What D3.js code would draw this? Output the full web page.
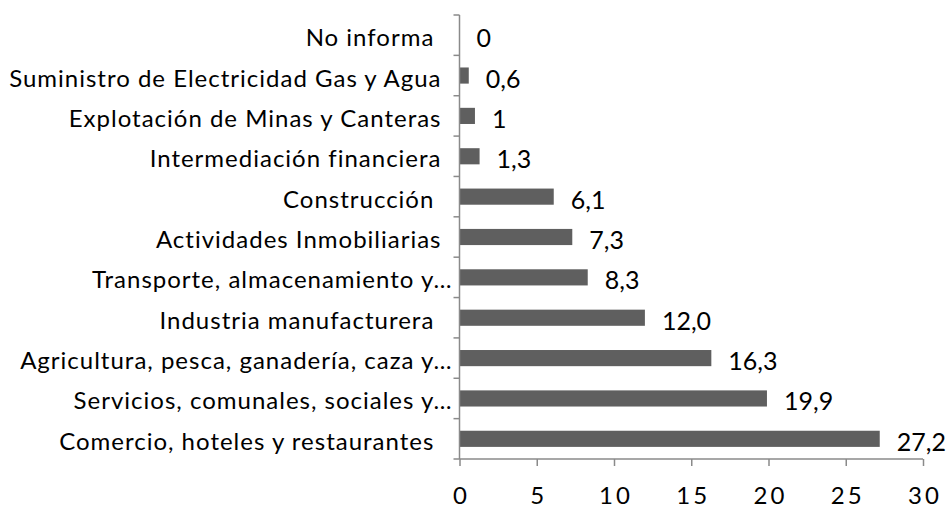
<!DOCTYPE html>
<html>
<head>
    <meta charset="utf-8">
    <script src="https://d3js.org/d3.v7.min.js"></script>
    <style>
        body { margin: 0; background: #fff; }
        text { font-family: Lato, "Open Sans", sans-serif; fill: #000; }
    </style>
</head>
<body>
<script>
    // categories from top to bottom, as in the picture
    let categories = [
        "No informa ",
        "Suministro de Electricidad Gas y Agua",
        "Explotación de Minas y Canteras",
        "Intermediación financiera",
        "Construcción ",
        "Actividades Inmobiliarias",
        "Transporte, almacenamiento y…",
        "Industria manufacturera ",
        "Agricultura, pesca, ganadería, caza y…",
        "Servicios, comunales, sociales y…",
        "Comercio, hoteles y restaurantes "
    ];
    let values = [0, 0.6, 1, 1.3, 6.1, 7.3, 8.3, 12.0, 16.3, 19.9, 27.2];
    let valueLabels = ["0", "0,6", "1", "1,3", "6,1", "7,3", "8,3", "12,0", "16,3", "19,9", "27,2"];
    let xTicks = [0, 5, 10, 15, 20, 25, 30];

    let width = 950, height = 508;
    let plotLeft = 459.5, plotRight = 923, plotTop = 15, plotBottom = 459;
    let axisColor = "#8a8a8a";

    let svg = d3.select("body").append("svg")
        .attr("width", width)
        .attr("height", height);

    let x = d3.scaleLinear().domain([0, 30]).range([plotLeft, plotRight]);
    let y = d3.scaleBand().domain(categories).range([plotTop, plotBottom]).paddingInner(0.6).paddingOuter(0.3);
    let mid = d => y(d) + y.bandwidth() / 2;

    // bars
    svg.selectAll("rect.bar")
        .data(values)
        .join("rect")
        .attr("class", "bar")
        .attr("x", x(0))
        .attr("y", (d, i) => y(categories[i]))
        .attr("width", d => x(d) - x(0))
        .attr("height", y.bandwidth())
        .attr("fill", "#5f5f5f");

    // value labels
    svg.selectAll("text.val")
        .data(values)
        .join("text")
        .attr("class", "val")
        .attr("x", d => x(d) + 17)
        .attr("y", (d, i) => mid(categories[i]) + 12)
        .style("font-size", "25px")
        .text((d, i) => valueLabels[i]);

    // x axis
    let xAxis = d3.axisBottom(x).tickValues(xTicks).tickSize(7).tickPadding(10);
    let gx = svg.append("g")
        .attr("transform", "translate(0," + plotBottom + ")")
        .call(xAxis);
    gx.select(".domain").attr("stroke", axisColor).attr("stroke-width", 1.5)
        .attr("d", "M" + plotLeft + ",0H" + plotRight);
    gx.selectAll(".tick line").attr("stroke", axisColor).attr("stroke-width", 1.5);
    gx.selectAll(".tick text")
        .attr("y", 45).attr("dy", null).attr("dx", "1.5")
        .attr("fill", "#000")
        .style("font-family", "Lato, sans-serif")
        .style("font-size", "24px")
        .style("letter-spacing", "3px");

    // y axis: line plus category separators
    let sepScale = d3.scaleLinear().domain([0, categories.length]).range([plotTop, plotBottom]);
    let gy = svg.append("g").attr("transform", "translate(" + plotLeft + ",0)");
    gy.append("line")
        .attr("x1", 0).attr("x2", 0)
        .attr("y1", plotTop).attr("y2", plotBottom)
        .attr("stroke", axisColor).attr("stroke-width", 1.5);
    gy.selectAll("line.sep")
        .data(d3.range(categories.length + 1))
        .join("line")
        .attr("class", "sep")
        .attr("x1", -6).attr("x2", 0)
        .attr("y1", d => sepScale(d)).attr("y2", d => sepScale(d))
        .attr("stroke", axisColor).attr("stroke-width", 1.5);

    // category labels (truncated ones run a little further right, like Excel)
    svg.selectAll("text.cat")
        .data(categories)
        .join("text")
        .attr("class", "cat")
        .attr("x", d => d.endsWith("…") ? plotLeft - 7 : plotLeft - 18)
        .attr("y", d => mid(d) + 11)
        .attr("text-anchor", "end")
        .style("font-size", "24px")
        .style("letter-spacing", "1px")
        .style("white-space", "pre")
        .text(d => d);
</script>
</body>
</html>
